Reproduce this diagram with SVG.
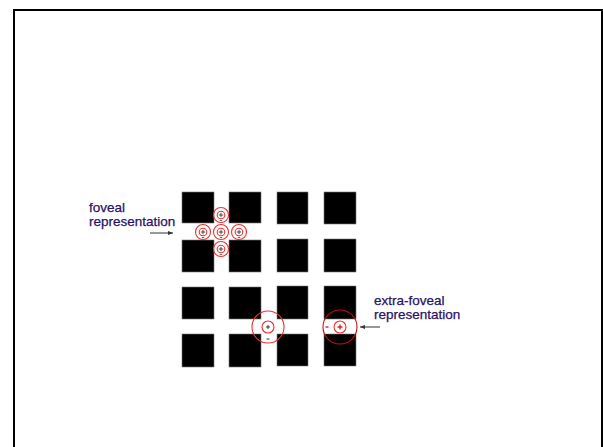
<svg xmlns="http://www.w3.org/2000/svg" width="603" height="447" viewBox="0 0 603 447">
<defs>
<style>
.sq{fill:#000;stroke:#777;stroke-width:0.6}
.lbl{font-family:"Liberation Sans",Arial,sans-serif;font-size:13.5px;fill:#2a1266;stroke:#2a1266;stroke-width:0.25}
.rc{fill:none;stroke:#f03030;stroke-width:1.1}
.dc{fill:none;stroke:#c01010;stroke-width:1.1}
.ln{stroke:#333;stroke-width:1}
</style>
<marker id="ah" markerWidth="6" markerHeight="6" refX="5" refY="3" orient="auto" markerUnits="userSpaceOnUse">
<path d="M0,1 L5,3 L0,5 Z" fill="#333"/>
</marker>
<g id="rf">
<circle class="rc" r="7.5"/>
<circle class="rc" r="3.8"/>
<path d="M-2.2,0 H2.2 M0,-2.2 V2.2" stroke="#333" stroke-width="0.9"/>
<path d="M-1.2,5.6 H1.2" stroke="#333" stroke-width="0.8"/>
</g>
</defs>
<rect width="603" height="447" fill="#fff"/>
<rect id="frame" x="14" y="10" width="588" height="460" fill="none" stroke="#000" stroke-width="2"/>
<g id="grid">
<rect class="sq" x="182" y="192" width="32" height="31"/>
<rect class="sq" x="229" y="192" width="32" height="31"/>
<rect class="sq" x="277" y="192" width="31" height="32"/>
<rect class="sq" x="324" y="192" width="32" height="32"/>
<rect class="sq" x="182" y="240" width="32" height="32"/>
<rect class="sq" x="229" y="240" width="32" height="32"/>
<rect class="sq" x="277" y="239" width="31" height="33"/>
<rect class="sq" x="324" y="239" width="32" height="33"/>
<rect class="sq" x="182" y="287" width="32" height="32"/>
<rect class="sq" x="229" y="287" width="32" height="32"/>
<rect class="sq" x="277" y="286" width="31" height="33"/>
<rect class="sq" x="324" y="286" width="32" height="33"/>
<rect class="sq" x="182" y="334" width="32" height="33"/>
<rect class="sq" x="229" y="334" width="32" height="33"/>
<rect class="sq" x="277" y="334" width="31" height="32"/>
<rect class="sq" x="324" y="334" width="32" height="32"/>
</g>
<g id="foveal-fields">
<use href="#rf" x="221" y="215"/>
<use href="#rf" x="203" y="232"/>
<use href="#rf" x="221" y="232"/>
<use href="#rf" x="239" y="232"/>
<use href="#rf" x="221" y="249"/>
</g>
<g id="extra-field-1">
<circle class="rc" cx="268" cy="327" r="16"/>
<circle class="rc" cx="268" cy="327" r="6"/>
<path d="M266,327 H270 M268,325 V329" stroke="#222" stroke-width="0.9"/>
<path d="M266.5,339 H269.5" stroke="#222" stroke-width="0.9"/>
</g>
<g id="extra-field-2">
<circle class="dc" cx="340" cy="327" r="17"/>
<circle class="rc" cx="340" cy="327" r="6"/>
<path d="M337.5,327 H342.5 M340,324.5 V329.5" stroke="#e02020" stroke-width="1.4"/>
<path d="M325.5,327 H328.5" stroke="#e02020" stroke-width="1.4"/>
</g>
<g id="label-foveal">
<text class="lbl" x="89" y="212">foveal</text>
<text class="lbl" x="89" y="226">representation</text>
</g>
<g id="label-extra">
<text class="lbl" x="374" y="305">extra-foveal</text>
<text class="lbl" x="374" y="319">representation</text>
</g>
<g id="connectors">
<line class="ln" x1="150" y1="233" x2="173" y2="233" marker-end="url(#ah)"/>
<line class="ln" x1="380" y1="327" x2="360" y2="327" marker-end="url(#ah)"/>
</g>
</svg>
